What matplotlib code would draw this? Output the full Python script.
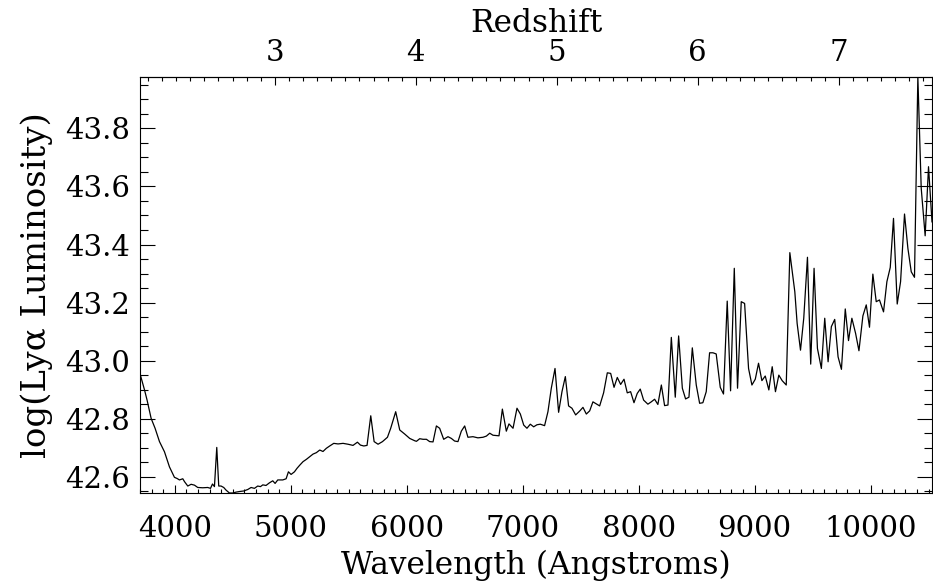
import numpy as np
import matplotlib.pyplot as plt
from matplotlib.ticker import MultipleLocator, FixedLocator, FormatStrFormatter

plt.rcParams['font.family'] = ['DejaVu Serif']
plt.rcParams['mathtext.fontset'] = 'dejavuserif'

# observed wavelength (Angstroms) and log Lya luminosity limit
wavelength = [
    3700, 3739, 3761, 3796, 3830, 3868, 3911, 3954, 3997, 4020, 4040, 4069,
    4084, 4112, 4141, 4170, 4198, 4241, 4284, 4308, 4325, 4342, 4362, 4379,
    4399, 4422, 4442, 4471, 4500, 4528, 4557, 4595, 4629, 4658, 4687, 4715,
    4739, 4759, 4787, 4816, 4845, 4865, 4888, 4931, 4960, 4980, 5003, 5032,
    5054, 5078, 5106, 5135, 5164, 5192, 5221, 5250, 5278, 5307, 5336, 5371,
    5408, 5451, 5494, 5537, 5575, 5601, 5630, 5658, 5690, 5719, 5753, 5791,
    5834, 5862, 5905, 5940, 5983, 6026, 6069, 6084, 6112, 6141, 6170, 6198,
    6227, 6256, 6284, 6319, 6356, 6385, 6413, 6442, 6471, 6500, 6528, 6571,
    6614, 6658, 6687, 6716, 6744, 6796, 6825, 6859, 6882, 6917, 6951, 6980,
    7009, 7037, 7066, 7095, 7123, 7152, 7189, 7218, 7247, 7279, 7310, 7339,
    7368, 7396, 7425, 7457, 7491, 7520, 7549, 7578, 7606, 7664, 7698, 7730,
    7759, 7788, 7816, 7845, 7874, 7902, 7931, 7960, 7988, 8014, 8043, 8080,
    8109, 8138, 8166, 8196, 8224, 8253, 8282, 8316, 8345, 8377, 8405, 8434,
    8463, 8497, 8526, 8554, 8583, 8612, 8641, 8669, 8704, 8732, 8764, 8793,
    8825, 8853, 8885, 8914, 8948, 8977, 9006, 9034, 9063, 9092, 9123, 9152,
    9180, 9209, 9238, 9273, 9304, 9347, 9367, 9396, 9424, 9456, 9484, 9513,
    9542, 9576, 9605, 9634, 9662, 9691, 9720, 9749, 9782, 9810, 9839, 9871,
    9900, 9934, 9963, 9991, 10020, 10049, 10077, 10112, 10141, 10170, 10198,
    10230, 10259, 10293, 10322, 10351, 10379, 10408, 10437, 10471, 10500, 10530,
]
log_lum = [
    42.955, 42.899, 42.864, 42.801, 42.767, 42.721, 42.686, 42.634, 42.598,
    42.594, 42.589, 42.593, 42.583, 42.568, 42.574, 42.571, 42.563, 42.562,
    42.563, 42.560, 42.575, 42.566, 42.701, 42.568, 42.568, 42.563, 42.554,
    42.544, 42.544, 42.547, 42.549, 42.551, 42.556, 42.563, 42.560, 42.568,
    42.566, 42.572, 42.570, 42.579, 42.586, 42.577, 42.589, 42.589, 42.593,
    42.617, 42.608, 42.617, 42.629, 42.640, 42.652, 42.660, 42.669, 42.678,
    42.683, 42.692, 42.687, 42.698, 42.706, 42.715, 42.713, 42.715, 42.712,
    42.708, 42.719, 42.709, 42.706, 42.708, 42.810, 42.721, 42.712, 42.721,
    42.736, 42.767, 42.824, 42.761, 42.747, 42.732, 42.724, 42.722, 42.731,
    42.729, 42.729, 42.721, 42.720, 42.775, 42.767, 42.729, 42.738, 42.732,
    42.723, 42.721, 42.757, 42.775, 42.736, 42.738, 42.734, 42.736, 42.740,
    42.750, 42.743, 42.741, 42.833, 42.757, 42.782, 42.767, 42.836, 42.816,
    42.778, 42.767, 42.781, 42.772, 42.779, 42.781, 42.776, 42.824, 42.905,
    42.973, 42.822, 42.893, 42.945, 42.844, 42.836, 42.813, 42.826, 42.839,
    42.816, 42.827, 42.858, 42.844, 42.889, 42.958, 42.956, 42.908, 42.942,
    42.918, 42.936, 42.889, 42.893, 42.855, 42.887, 42.902, 42.864, 42.850,
    42.858, 42.867, 42.849, 42.916, 42.845, 42.847, 43.080, 42.874, 43.085,
    42.905, 42.868, 42.874, 43.044, 42.916, 42.853, 42.855, 42.893, 43.027,
    43.027, 43.023, 42.908, 42.885, 43.205, 42.896, 43.318, 42.905, 43.203,
    43.197, 42.973, 42.916, 42.936, 42.991, 42.931, 42.947, 42.899, 42.979,
    42.893, 42.950, 42.931, 42.916, 43.372, 43.237, 43.128, 43.036, 43.146,
    43.356, 42.988, 43.318, 43.042, 42.973, 43.146, 42.996, 43.117, 43.142,
    43.013, 42.970, 43.178, 43.069, 43.146, 43.094, 43.034, 43.154, 43.192,
    43.115, 43.298, 43.203, 43.209, 43.168, 43.272, 43.321, 43.490, 43.195,
    43.272, 43.505, 43.387, 43.306, 43.287, 43.977, 43.594, 43.430, 43.668,
    43.478,
]
redshift_ticks = [3, 4, 5, 6, 7]

LYA = 1215.67

def lam2z(lam):
    return np.asarray(lam) / LYA - 1.0

def z2lam(z):
    return (np.asarray(z) + 1.0) * LYA

fig = plt.figure(figsize=(9.33, 5.82), dpi=100)
ax = fig.add_axes([140 / 933, 89 / 582, 792 / 933, 416 / 582])

ax.plot(wavelength, log_lum, color='black', lw=0.9)
ax.set_xlim(3700, 10530)
ax.set_ylim(min(log_lum), max(log_lum))

fs = 21
ax.xaxis.set_major_locator(MultipleLocator(1000))
ax.xaxis.set_minor_locator(MultipleLocator(100))
ax.yaxis.set_major_locator(MultipleLocator(0.2))
ax.yaxis.set_minor_locator(MultipleLocator(0.05))
ax.yaxis.set_major_formatter(FormatStrFormatter('%.1f'))

ax.tick_params(axis='x', which='major', direction='in', length=6, width=0.8,
               top=False, labelsize=fs, pad=16)
ax.tick_params(axis='x', which='minor', direction='in', length=3, width=0.8,
               top=False)
ax.tick_params(axis='y', which='major', direction='in', length=11, width=0.8,
               right=True, labelsize=fs, pad=7)
ax.tick_params(axis='y', which='minor', direction='in', length=5.5, width=0.8,
               right=True)
for s in ax.spines.values():
    s.set_linewidth(0.8)

ax.set_xlabel('Wavelength (Angstroms)', fontsize=22.5, labelpad=5)
ax.set_ylabel('log(Ly\u03b1 Luminosity)', fontsize=24.5, labelpad=9)

# redshift of Lya along the top axis
sec = ax.secondary_xaxis('top', functions=(lam2z, z2lam))
sec.xaxis.set_major_locator(FixedLocator(redshift_ticks))
sec.xaxis.set_minor_locator(MultipleLocator(0.1))
sec.xaxis.set_major_formatter(FormatStrFormatter('%d'))
sec.tick_params(which='major', direction='in', length=6, width=0.8,
                labelsize=fs, pad=7)
sec.tick_params(which='minor', direction='in', length=3, width=0.8)
sec.spines['top'].set_linewidth(0.8)
sec.set_xlabel('Redshift', fontsize=22.5, labelpad=5)

fig.savefig('out.png', dpi=100)
